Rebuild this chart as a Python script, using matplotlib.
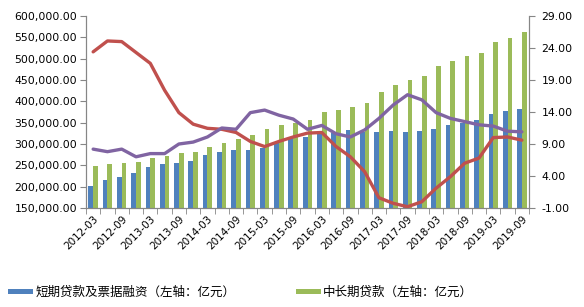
import matplotlib
matplotlib.use("Agg")
import matplotlib.pyplot as plt
import numpy as np
from matplotlib.patches import Patch
from matplotlib.ticker import FuncFormatter

periods = ["2012-03", "2012-06", "2012-09", "2012-12", "2013-03", "2013-06", "2013-09", "2013-12",
           "2014-03", "2014-06", "2014-09", "2014-12", "2015-03", "2015-06", "2015-09", "2015-12",
           "2016-03", "2016-06", "2016-09", "2016-12", "2017-03", "2017-06", "2017-09", "2017-12",
           "2018-03", "2018-06", "2018-09", "2018-12", "2019-03", "2019-06", "2019-09"]

short_loans = [202000, 215600, 223400, 232800, 246800, 253000, 256000, 261000,
               274000, 282000, 285000, 286000, 290000, 301600, 313000, 317000,
               325000, 325000, 332800, 329000, 328000, 330500, 327000, 330500,
               335200, 344500, 348500, 356000, 370000, 377300, 382000]

long_loans = [249000, 253000, 256000, 258500, 267000, 272000, 279000, 282000,
              293700, 301600, 311700, 321000, 335000, 344500, 348500, 356000,
              375700, 379700, 387400, 396800, 422600, 438300, 450000, 459400,
              482800, 494500, 506300, 513900, 539800, 549200, 563300]

red_line = [23.4, 25.1, 25.0, 23.3, 21.6, 17.4, 13.9, 12.1,
            11.45, 11.3, 10.8, 9.4, 8.6, 9.4, 10.1, 10.7,
            10.8, 8.6, 7.0, 4.67, 0.6, -0.27, -0.8, -0.02,
            2.1, 3.9, 6.0, 6.8, 10.0, 10.1, 9.6]

purple_line = [8.2, 7.8, 8.2, 7.0, 7.5, 7.5, 9.0, 9.3,
               10.1, 11.5, 11.3, 13.9, 14.3, 13.5, 12.9, 11.3,
               11.9, 10.6, 10.1, 11.2, 13.0, 15.1, 16.7, 15.9,
               13.9, 13.0, 12.5, 12.0, 11.8, 11.0, 10.9]

legend_labels = ["短期贷款及票据融资（左轴：亿元）", "中长期贷款（左轴：亿元）"]

BLUE = "#4F81BD"
GREEN = "#9BBB59"
RED = "#C0504D"
PURPLE = "#8064A2"
SPINE = "#868686"

plt.rcParams['font.family'] = ['DejaVu Sans']

fig = plt.figure(figsize=(5.84, 3.07), dpi=100)
ax = fig.add_axes([86/584, 1-208/307, (529-86)/584, (208-16)/307])
ax2 = ax.twinx()

n = len(periods)
x = np.arange(n)
w = 0.33
ax.bar(x - w/2, short_loans, width=w, color=BLUE, zorder=2)
ax.bar(x + w/2, long_loans, width=w, color=GREEN, zorder=2)

ax.set_xlim(-0.5, n - 0.5)
ax.set_ylim(150000, 600000)
ax.set_yticks(np.arange(150000, 600001, 50000))
ax.yaxis.set_major_formatter(FuncFormatter(lambda v, p: f"{v:,.2f}"))

ax2.plot(x, red_line, color=RED, lw=2.4, solid_capstyle='round', solid_joinstyle='round', zorder=3)
ax2.plot(x, purple_line, color=PURPLE, lw=2.4, solid_capstyle='round', solid_joinstyle='round', zorder=3)
ax2.set_ylim(-1, 29)
ax2.set_yticks(np.arange(-1, 29.1, 5))
ax2.yaxis.set_major_formatter(FuncFormatter(lambda v, p: f"{v:.2f}"))

ax.set_xticks(x[::2])
ax.set_xticklabels(periods[::2], rotation=45, ha='right', rotation_mode='anchor', fontsize=7.5)
ax.set_xticks(np.arange(-0.5, n, 1), minor=True)
ax.tick_params(axis='x', which='major', length=0, pad=4)
ax.tick_params(axis='x', which='minor', length=4, color=SPINE, direction='out')
ax.tick_params(axis='y', labelsize=7.8, length=4, color=SPINE, pad=2.5)
ax2.tick_params(axis='y', labelsize=7.8, length=4, color=SPINE, pad=5)

for a in (ax, ax2):
    a.spines['top'].set_visible(False)
    for s in ('left', 'right', 'bottom'):
        a.spines[s].set_color(SPINE)
        a.spines[s].set_linewidth(0.8)

handles = [Patch(facecolor=BLUE, edgecolor='none'), Patch(facecolor=GREEN, edgecolor='none')]
leg = fig.legend(handles, legend_labels, loc='center left', bbox_to_anchor=(8/584, 1-292.5/307),
                 ncol=2, frameon=False, handlelength=2.0, handleheight=0.35,
                 handletextpad=0.2, columnspacing=4.8, borderaxespad=0, borderpad=0,
                 prop={'family': ['Noto Sans CJK SC', 'DejaVu Sans'], 'size': 9})

fig.savefig("out.png", dpi=100)
